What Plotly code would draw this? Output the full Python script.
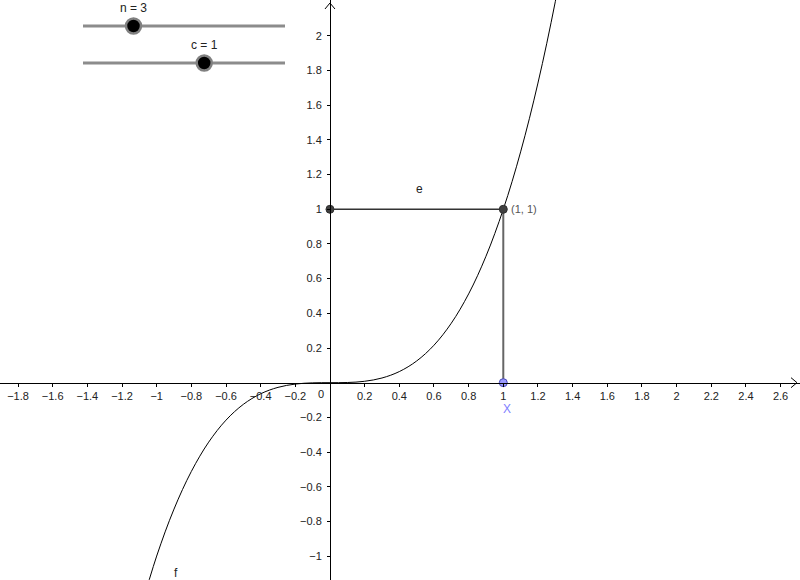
import plotly.graph_objects as go

# ---- data ----
n_value, n_min, n_max = 3, 1, 9
c_value, c_min, c_max = 1, -5, 5

curve_x = [-1.1, -1.0, -0.9, -0.8, -0.7, -0.6, -0.5, -0.4, -0.3, -0.2, -0.1, 0.0,
           0.1, 0.2, 0.3, 0.4, 0.5, 0.6, 0.7, 0.8, 0.9, 1.0, 1.1, 1.2, 1.3, 1.4]
curve_y = [-1.331, -1.0, -0.729, -0.512, -0.343, -0.216, -0.125, -0.064, -0.027, -0.008, -0.001, 0.0,
           0.001, 0.008, 0.027, 0.064, 0.125, 0.216, 0.343, 0.512, 0.729, 1.0, 1.331, 1.728, 2.197, 2.744]

point_X = (1, 0)
point_P = (1, 1)
point_Y = (0, 1)

x_ticks = [-1.8, -1.6, -1.4, -1.2, -1, -0.8, -0.6, -0.4, -0.2,
           0.2, 0.4, 0.6, 0.8, 1, 1.2, 1.4, 1.6, 1.8, 2, 2.2, 2.4, 2.6]
y_ticks = [-1, -0.8, -0.6, -0.4, -0.2, 0.2, 0.4, 0.6, 0.8, 1, 1.2, 1.4, 1.6, 1.8, 2]

W, H = 800, 580
x_range = [-1.904, 2.712]
y_range = [-1.138, 2.207]

FONT = "Liberation Sans"

fig = go.Figure()

# segment e (horizontal) and vertical segment
fig.add_trace(go.Scatter(x=[point_Y[0], point_P[0]], y=[point_Y[1], point_P[1]], mode="lines",
                         line=dict(color="#333333", width=1.5), hoverinfo="skip"))
fig.add_trace(go.Scatter(x=[point_P[0], point_X[0]], y=[point_P[1], point_X[1]], mode="lines",
                         line=dict(color="#666666", width=2), hoverinfo="skip"))

# curve f
fig.add_trace(go.Scatter(x=curve_x, y=curve_y, mode="lines", line=dict(color="black", width=1, shape="spline"),
                         hoverinfo="skip"))

# points
fig.add_trace(go.Scatter(x=[point_Y[0], point_P[0]], y=[point_Y[1], point_P[1]], mode="markers",
                         marker=dict(color="#404040", size=8, line=dict(color="#303030", width=1)),
                         hoverinfo="skip"))
fig.add_trace(go.Scatter(x=[point_X[0]], y=[point_X[1]], mode="markers",
                         marker=dict(color="#9a9aff", size=8, line=dict(color="#4848b8", width=1)),
                         hoverinfo="skip"))

# ---- sliders on a pixel overlay ----
sl_x0, sl_x1 = 83, 285
sliders = [("n = %d" % n_value, n_value, n_min, n_max, 26),
           ("c = %d" % c_value, c_value, c_min, c_max, 63)]
for label, val, vmin, vmax, py in sliders:
    kx = sl_x0 + (val - vmin) / (vmax - vmin) * (sl_x1 - sl_x0)
    fig.add_trace(go.Scatter(x=[sl_x0, sl_x1], y=[py, py], mode="lines", xaxis="x2", yaxis="y2",
                             line=dict(color="#8c8c8c", width=3), hoverinfo="skip"))
    fig.add_trace(go.Scatter(x=[kx], y=[py], mode="markers", xaxis="x2", yaxis="y2",
                             marker=dict(color="black", size=15, line=dict(color="#808080", width=2.5)),
                             hoverinfo="skip"))
    fig.add_annotation(x=kx, y=py - 18, xref="x2", yref="y2", text=label, showarrow=False,
                       font=dict(family=FONT, size=12, color="#222222"))

# axis arrows (pixel overlay)
ox = (0 - x_range[0]) / (x_range[1] - x_range[0]) * W
oy = H - (0 - y_range[0]) / (y_range[1] - y_range[0]) * H
fig.add_shape(type="path", xref="x2", yref="y2",
              path=f"M {W-9} {oy-5} L {W-3} {oy} L {W-9} {oy+5}", line=dict(color="black", width=1))
fig.add_shape(type="path", xref="x2", yref="y2",
              path=f"M {ox-5} 9 L {ox} 3 L {ox+5} 9", line=dict(color="black", width=1))

# labels
fig.add_annotation(x=0, y=0, text="0", showarrow=False, xshift=-9, yshift=-11,
                   font=dict(family=FONT, size=11, color="#222222"))
fig.add_annotation(x=point_P[0], y=point_P[1], text="(1, 1)", showarrow=False, xanchor="left", xshift=6,
                   font=dict(family=FONT, size=11, color="#555555"))
fig.add_annotation(x=0.519, y=1.117, text="e", showarrow=False,
                   font=dict(family=FONT, size=12, color="#222222"))
fig.add_annotation(x=-0.889, y=-1.096, text="f", showarrow=False,
                   font=dict(family=FONT, size=12, color="#222222"))
fig.add_annotation(x=1.02, y=-0.15, text="X", showarrow=False,
                   font=dict(family=FONT, size=12, color="#7f7fff"))

x_pos = (0 - y_range[0]) / (y_range[1] - y_range[0])
y_pos = (0 - x_range[0]) / (x_range[1] - x_range[0])

fig.update_layout(
    width=W, height=H, margin=dict(l=0, r=0, t=0, b=0),
    paper_bgcolor="white", plot_bgcolor="white", showlegend=False,
    xaxis=dict(range=x_range, anchor="free", position=x_pos, showgrid=False, zeroline=False,
               showline=True, linecolor="black", linewidth=1, ticks="outside", ticklen=3,
               tickcolor="black", tickvals=x_ticks, ticktext=[("%g" % v).replace("-", "\u2212") for v in x_ticks],
               tickfont=dict(family=FONT, size=11, color="#222222"), fixedrange=True),
    yaxis=dict(range=y_range, anchor="free", position=y_pos, showgrid=False, zeroline=False,
               showline=True, linecolor="black", linewidth=1, ticks="outside", ticklen=3,
               tickcolor="black", tickvals=y_ticks, ticktext=[("%g" % v).replace("-", "\u2212") for v in y_ticks],
               ticklabelstandoff=3,
               tickfont=dict(family=FONT, size=11, color="#222222"), fixedrange=True),
    xaxis2=dict(range=[0, W], overlaying="x", visible=False, fixedrange=True),
    yaxis2=dict(range=[H, 0], overlaying="y", visible=False, fixedrange=True),
)

fig.write_html("out.html", config={"displayModeBar": False},
               post_script="document.body.style.margin='0';")
